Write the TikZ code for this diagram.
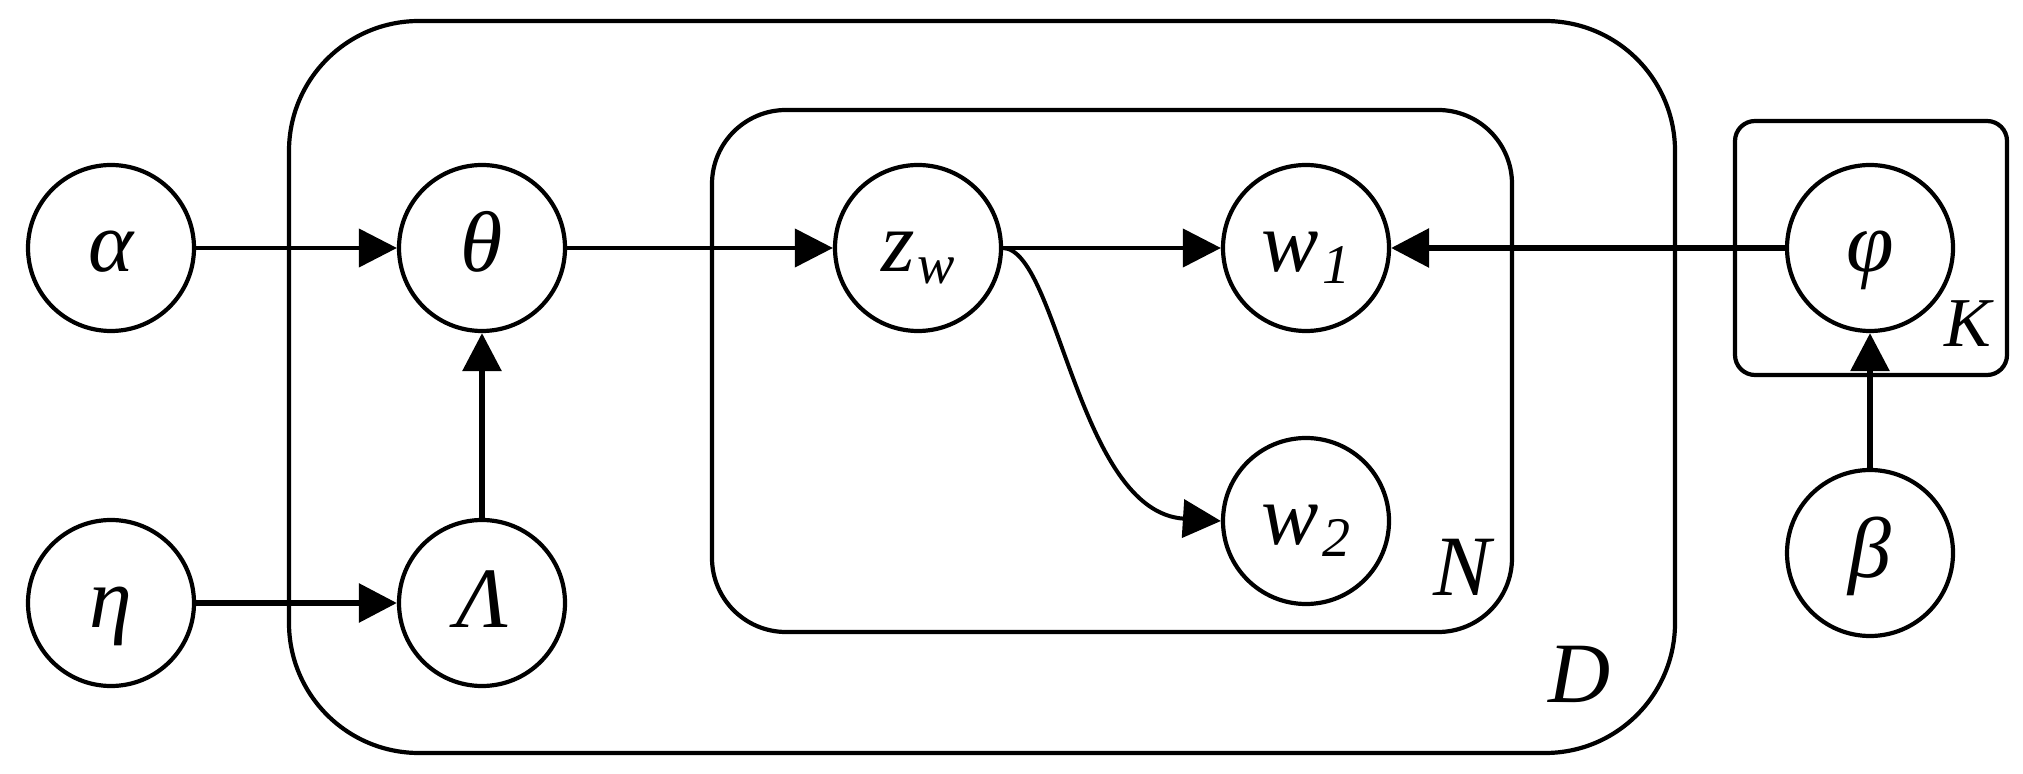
\documentclass[tikz,border=0pt]{standalone}
\usepackage{fontspec}
\setmainfont{Liberation Serif}
\usetikzlibrary{arrows.meta}
\newcommand\lowsub[1]{\kern1.5pt\raisebox{-6pt}{\fontsize{28}{28}\selectfont #1}}
\begin{document}
\begin{tikzpicture}[x=0.5pt,y=-0.5pt,
  var/.style={circle,draw,line width=2.1pt,minimum size=83pt,inner sep=0pt,fill=white,
    text height=24pt,text depth=0pt,font=\fontsize{43}{43}\selectfont\itshape},
  plate/.style={draw,line width=2.1pt},
  edge/.style={-{Triangle[length=19pt,width=19pt]},line width=2pt},
  thickedge/.style={edge,line width=3pt},
  platelabel/.style={anchor=base,inner sep=0pt,font=\fontsize{43}{43}\selectfont\itshape}]
\useasboundingbox (0,0) rectangle (2023,774);
% plates
\draw[plate,rounded corners=65pt] (289,21) rectangle (1675,753);
\draw[plate,rounded corners=37pt] (712,110) rectangle (1512,632);
\draw[plate,rounded corners=10pt] (1735,121) rectangle (2007,375);
% plate labels
\node[platelabel] (Nlab) at (1462,596) {N};
\node[platelabel] (Dlab) at (1580,702) {D};
\node[platelabel,font=\fontsize{35}{35}\selectfont\itshape] (Klab) at (1968,347) {K};
% variables
\node[var] (alpha) at (111,248) {α};
\node[var] (eta) at (111,603) {η};
\node[var] (theta) at (482,248) {θ};
\node[var] (Lambda) at (482,603) {Λ};
\node[var] (z) at (918,248) {z\lowsub{w}};
\node[var] (w1) at (1306,248) {w\lowsub{1}};
\node[var] (w2) at (1306,521) {w\lowsub{2}};
\node[var] (phi) at (1870,248) {φ};
\node[var] (beta) at (1870,553) {β};
% edges
\draw[edge] (alpha) -- (theta);
\draw[thickedge] (eta) -- (Lambda);
\draw[thickedge] (Lambda) -- (theta);
\draw[edge] (theta) -- (z);
\draw[edge] (z) -- (w1);
\draw[edge] (z.east) .. controls (1058,250) and (1078,512) .. (w2.west);
\draw[thickedge] (phi) -- (w1);
\draw[thickedge] (beta) -- (phi);
\end{tikzpicture}
\end{document}
